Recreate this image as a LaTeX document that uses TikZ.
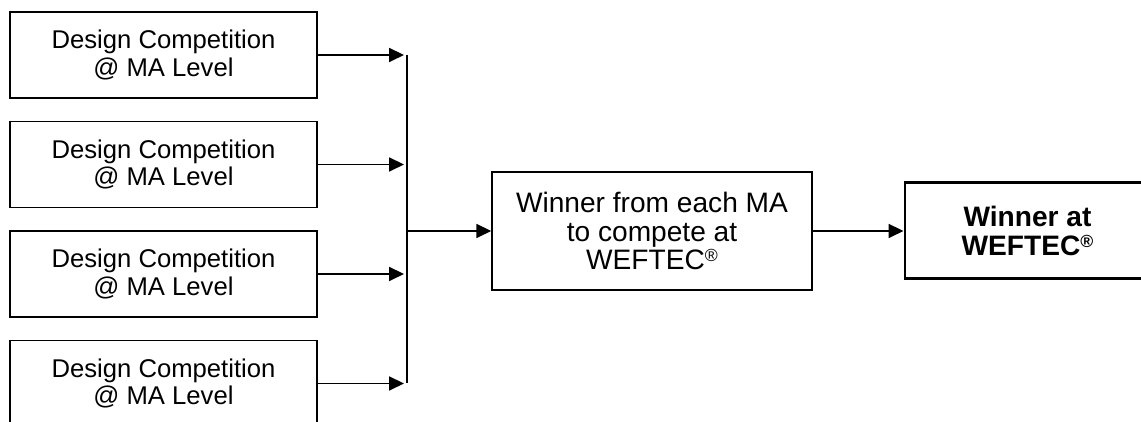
\documentclass[tikz,border=0pt]{standalone}
\usepackage{fontspec}
\setmainfont{Liberation Sans}
\usepackage{tikz}
\usetikzlibrary{arrows.meta,positioning,calc}
\newcommand{\regmark}{\raisebox{0.28em}{\fontsize{10}{10}\selectfont\textregistered}}
\tikzset{
  box/.style={draw, line width=0.85pt, align=center, minimum width=6.14cm, minimum height=1.72cm,
    font=\fontsize{14.6}{15.5}\selectfont},
  midbox/.style={box, minimum width=6.4cm, minimum height=2.36cm, font=\fontsize{16}{16}\selectfont},
  final/.style={box, line width=1.7pt, minimum width=4.9cm, minimum height=1.92cm, font=\fontsize{16}{16}\selectfont\bfseries},
  arrow/.style={-{Triangle[length=8.5pt,width=8pt]}, line width=0.85pt}
}
\begin{document}
\begin{tikzpicture}
  \useasboundingbox (0,0) rectangle (22.82,8.44);
  \clip (0,0) rectangle (22.82,8.44);
  % MA level competitions
  \foreach \i in {1,...,4}
    \node[box] (dc\i) at (3.27,{7.34-(\i-1)*2.19}) {Design Competition\\@ MA Level};
  % Collecting line
  \coordinate (bus) at (8.14,4);
  \foreach \i in {1,...,4}
    \draw[arrow, shorten >=0.06cm] (dc\i.east) -- (dc\i.east -| bus);
  \draw[line width=0.85pt] (bus |- dc1.east) -- (bus |- dc4.east);
  % National level
  \node[midbox] (mid) at (13.04,3.82) {Winner from each MA\\to compete at\\WEFTEC\regmark};
  \node[final] (win) at (20.55,3.82) {Winner at\\WEFTEC\regmark};
  \draw[arrow] (bus |- mid.west) -- (mid.west);
  \draw[arrow] (mid.east) -- (win.west);
\end{tikzpicture}
\end{document}
